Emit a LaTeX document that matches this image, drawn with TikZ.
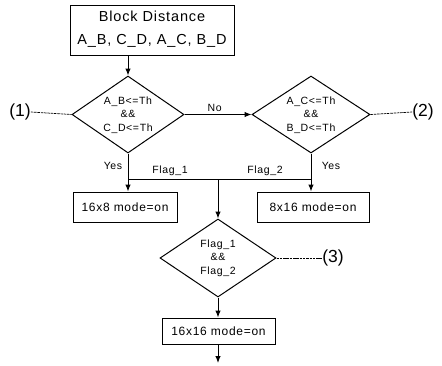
\documentclass[tikz,border=0pt]{standalone}
\usepackage{fontspec}
\setmainfont{Liberation Sans}
\newfontfamily\lsfont{Liberation Sans}[LetterSpace=6]
\usetikzlibrary{shapes.geometric,arrows.meta}
\tikzset{
  flowline/.style={line width=1pt},
  arr/.style={flowline,-{Latex[length=7pt,width=5.5pt]}},
  refline/.style={line width=0.7pt,dash pattern=on 2.5pt off 0.8pt},
  procbox/.style={draw,line width=1pt,rectangle,inner sep=0pt},
  decision/.style={draw,line width=1pt,diamond,inner sep=0pt,aspect=1.5},
  dtext/.style={align=center,font=\lsfont\fontsize{10.5}{13.5}\selectfont,inner sep=0pt},
  btext/.style={font=\lsfont\fontsize{12}{14}\selectfont},
  small/.style={font=\lsfont\fontsize{10.5}{12}\selectfont,inner sep=1pt},
  reflabel/.style={font=\fontsize{17.5}{20}\selectfont,inner sep=0pt}
}
\begin{document}
\begin{tikzpicture}[x=1pt,y=-1pt]
\useasboundingbox (0,0) rectangle (442,365);
% top box
\node[procbox,minimum width=164pt,minimum height=50pt] (top) at (152,30) {};
\node[align=center,font=\lsfont\fontsize{14.5}{22.5}\selectfont,inner sep=0pt] (toptext) at (152,29) {Block Distance\\A\_B, C\_D, A\_C, B\_D};
% decisions
\node[decision,minimum width=112pt,minimum height=77pt] (d1) at (128,114.5) {};
\node[dtext] (d1t) at (128,115) {A\_B<=Th\\\&\&\\C\_D<=Th};
\node[decision,minimum width=118pt,minimum height=77pt] (d2) at (311,114.5) {};
\node[dtext] (d2t) at (311,115) {A\_C<=Th\\\&\&\\B\_D<=Th};
\node[decision,minimum width=116pt,minimum height=78pt] (d3) at (218,258) {};
\node[dtext] (d3t) at (218,258) {Flag\_1\\\&\&\\Flag\_2};
% reference labels
\node[reflabel] (r1) at (20,112) {(1)};
\node[reflabel] (r2) at (423,112) {(2)};
\node[reflabel] (r3) at (333,258) {(3)};
% boxes
\node[procbox,minimum width=104pt,minimum height=30pt] (b1) at (125,207) {};
\node[btext] (b1t) at (125,207) {16x8 mode=on};
\node[procbox,minimum width=112pt,minimum height=30pt] (b2) at (313,207) {};
\node[btext] (b2t) at (313,207) {8x16 mode=on};
\node[procbox,minimum width=113pt,minimum height=26pt] (b3) at (218.5,331) {};
\node[btext] (b3t) at (218.5,331) {16x16 mode=on};
% junctions
\coordinate (j1) at (128,179);
\coordinate (j2) at (311,179);
\coordinate (jm) at (218,179);
\coordinate (endpt) at (218,363);
% connectors
\draw[arr] (top.south -| d1.north) -- (d1.north);
\draw[arr] (d1.east) -- node[small,above,pos=0.45,yshift=1pt] (no) {No} (d2.west);
\draw[arr] (d1.south) -- (d1.south |- b1.north);
\draw[arr] (d2.south) -- (d2.south |- b2.north);
\draw[flowline] (j1) -- (j2);
\draw[arr] (jm) -- (d3.north);
\draw[arr] (d3.south) -- (d3.south |- b3.north);
\draw[arr] (b3.south -| endpt) -- (endpt);
\draw[refline] (r1.east) -- (d1.west);
\draw[refline] (d2.east) -- (r2.west);
\draw[refline] (d3.east) -- (r3.west);
% labels
\node[small] (yes1) at (113,166) {Yes};
\node[small] (yes2) at (331,166) {Yes};
\node[small] (f1) at (170,171) {Flag\_1};
\node[small] (f2) at (265,171) {Flag\_2};
\end{tikzpicture}
\end{document}
